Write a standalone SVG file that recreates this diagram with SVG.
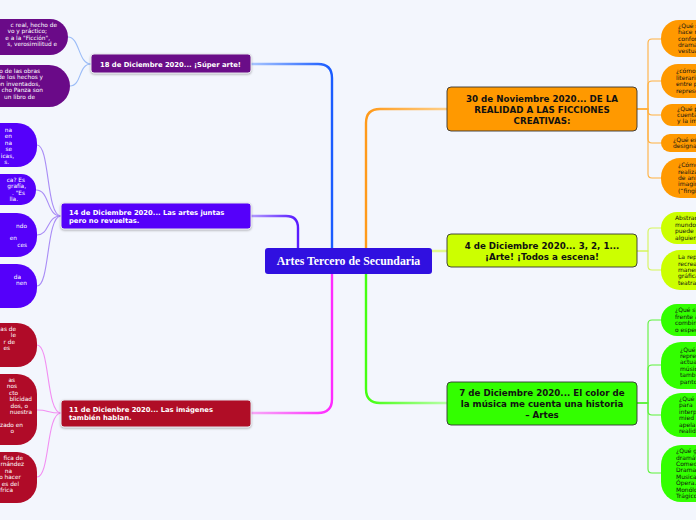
<svg xmlns="http://www.w3.org/2000/svg" width="696" height="520" viewBox="0 0 696 520">
<defs>
<filter id="sh" x="-10%" y="-20%" width="120%" height="150%"><feDropShadow dx="0" dy="1" stdDeviation="0.8" flood-color="#000" flood-opacity="0.3"/></filter>
<linearGradient id="gBlue" gradientUnits="userSpaceOnUse" x1="251" y1="0" x2="330" y2="0"><stop offset="0" stop-color="#a9c6ff"/><stop offset="1" stop-color="#1a5cff"/></linearGradient>
<linearGradient id="gViolet" gradientUnits="userSpaceOnUse" x1="251" y1="0" x2="296" y2="0"><stop offset="0" stop-color="#b49cff"/><stop offset="1" stop-color="#5a1cff"/></linearGradient>
<linearGradient id="gMag" gradientUnits="userSpaceOnUse" x1="251" y1="0" x2="330" y2="0"><stop offset="0" stop-color="#f7aaf7"/><stop offset="1" stop-color="#ff2bff"/></linearGradient>
<linearGradient id="gOrange" gradientUnits="userSpaceOnUse" x1="447" y1="0" x2="368" y2="0"><stop offset="0" stop-color="#ffd08a"/><stop offset="1" stop-color="#ff9a1a"/></linearGradient>
<linearGradient id="gGreen" gradientUnits="userSpaceOnUse" x1="447" y1="0" x2="368" y2="0"><stop offset="0" stop-color="#b8ffa8"/><stop offset="1" stop-color="#44ff11"/></linearGradient>
</defs>
<style>
.nl{font-family:"DejaVu Sans",Verdana,sans-serif;font-weight:bold;font-size:6.8px;fill:#fff}
.nr{font-family:"DejaVu Sans",Verdana,sans-serif;font-weight:bold;font-size:8.7px;fill:#111;text-anchor:middle}
.bw{font-family:"DejaVu Sans",Verdana,sans-serif;font-size:5.8px;fill:#fff;text-anchor:end}
.bk{font-family:"DejaVu Sans",Verdana,sans-serif;font-size:6px;fill:#111}
.main{fill:none;stroke-width:2.4;stroke-linecap:round}
.fan{fill:none;stroke-width:1.1}
.boxL{stroke:#e4e4ea;stroke-width:1;filter:url(#sh)}
.boxR{stroke:#333;stroke-width:0.9}
</style>
<rect width="696" height="520" fill="#f3f6fd"/>

<g id="connectors">
<path class="main" stroke="url(#gBlue)" d="M251,64 H318 Q332,64 332,78 V248"/>
<path class="main" stroke="url(#gViolet)" d="M251,216 H286 Q298,216 298,228 V248"/>
<path class="main" stroke="url(#gMag)" d="M251,413 H318 Q332,413 332,399 V274"/>
<path class="main" stroke="url(#gOrange)" d="M447,109 H380 Q366,109 366,123 V248"/>
<path class="main" stroke="url(#gGreen)" d="M447,403 H380 Q366,403 366,389 V274"/>
<path class="main" stroke="#e2f98a" stroke-width="1.6" d="M432,251 H447"/>
<g stroke="#9bbcf7" class="fan">
<path d="M91,64 C78,64 80,37 68,37"/>
<path d="M91,64 C78,64 82,86 70,86"/>
</g>
<g stroke="#a98cf6" class="fan">
<path d="M61,216 C46,216 50,145 37,145"/>
<path d="M61,216 C46,216 50,190 36,190"/>
<path d="M61,216 C46,216 50,235 37,235"/>
<path d="M61,216 C46,216 50,286 37,286"/>
</g>
<g stroke="#f28ef2" class="fan">
<path d="M61,413 C46,413 50,345 37,345"/>
<path d="M61,413 C46,413 50,410 37,410"/>
<path d="M61,413 C46,413 50,477 37,477"/>
</g>
<g stroke="#ffb040" class="fan">
<path d="M637,109 H648 V43 Q648,39 652,39 H661"/>
<path d="M637,109 H648 V85 Q648,81 652,81 H661"/>
<path d="M637,109 H648 V111 Q648,115 652,115 H661"/>
<path d="M637,109 H648 V139 Q648,143 652,143 H661"/>
<path d="M637,109 H648 V174 Q648,178 652,178 H661"/>
</g>
<g stroke="#d6f55a" class="fan">
<path d="M637,251 H648 V232 Q648,228 652,228 H661"/>
<path d="M637,251 H648 V266 Q648,270 652,270 H661"/>
</g>
<g stroke="#5cf23a" class="fan">
<path d="M637,403 H648 V324 Q648,320 652,320 H661"/>
<path d="M637,403 H648 V369 Q648,365 652,365 H661"/>
<path d="M637,403 H648 V411 Q648,415 652,415 H661"/>
<path d="M637,403 H648 V469 Q648,473 652,473 H661"/>
</g>
</g>

<g id="center">
<rect x="265" y="248" width="167" height="26" rx="3" fill="#3010e0"/>
<text x="348.5" y="265" font-family="'Liberation Serif','Times New Roman',serif" font-weight="bold" font-size="11.8" fill="#fff" text-anchor="middle">Artes Tercero de Secundaria</text>
</g>

<g id="n18dic">
<rect class="boxL" x="91" y="54" width="160" height="19" rx="3" fill="#6a0a88"/>
<text class="nl" x="100" y="66.5">18 de Diciembre 2020... ¡Súper arte!</text>
</g>
<g id="n14dic">
<rect class="boxL" x="61" y="203" width="190" height="26" rx="3" fill="#5500fa"/>
<text class="nl" x="69" y="214.5">14 de Diciembre 2020... Las artes juntas</text>
<text class="nl" x="69" y="222.8">pero no revueltas.</text>
</g>
<g id="n11dic">
<rect class="boxL" x="61" y="400" width="190" height="27" rx="3" fill="#b00b28"/>
<text class="nl" x="69" y="411.5">11 de Dicienbre 2020... Las imágenes</text>
<text class="nl" x="69" y="420">también hablan.</text>
</g>
<g id="n30nov">
<rect class="boxR" x="447" y="87" width="190" height="44" rx="4" fill="#ff9900"/>
<text class="nr" x="542" y="102">30 de Noviembre 2020... DE LA</text>
<text class="nr" x="542" y="113">REALIDAD A LAS FICCIONES</text>
<text class="nr" x="542" y="124">CREATIVAS:</text>
</g>
<g id="n4dic">
<rect class="boxR" x="447" y="234" width="190" height="33" rx="4" fill="#ccff00"/>
<text class="nr" x="542" y="249">4 de Diciembre 2020... 3, 2, 1...</text>
<text class="nr" x="542" y="260">¡Arte! ¡Todos a escena!</text>
</g>
<g id="n7dic">
<rect class="boxR" x="447" y="382" width="190" height="43" rx="4" fill="#33ff00"/>
<text class="nr" x="542" y="396">7 de Diciembre 2020... El color de</text>
<text class="nr" x="542" y="407">la música me cuenta una historia</text>
<text class="nr" x="542" y="418">– Artes</text>
</g>

<g id="b18a"><rect x="-40" y="19" width="108" height="36" rx="18" fill="#6a0a88"/>
<text class="bw"><tspan x="57" y="27">c real, hecho de</tspan><tspan x="47" y="33.4">vo y práctico;</tspan><tspan x="50" y="39.8">e a la "Ficción",</tspan><tspan x="57" y="46.2">s, verosimilitud e</tspan></text></g>
<g id="b18b"><rect x="-40" y="65" width="110" height="42" rx="21" fill="#6a0a88"/>
<text class="bw"><tspan x="40" y="73">o de las obras</tspan><tspan x="43" y="79.4">de los hechos y</tspan><tspan x="40" y="85.8">on inventados,</tspan><tspan x="43" y="92.2">cho Panza son</tspan><tspan x="35" y="98.6">un libro de</tspan></text></g>

<g id="b14a"><rect x="-60" y="123" width="97" height="44" rx="20" fill="#5500fa"/>
<text class="bw"><tspan x="12" y="132">na</tspan><tspan x="12" y="138.4">en</tspan><tspan x="12" y="144.8">na</tspan><tspan x="12" y="151.2">se</tspan><tspan x="14" y="157.6">icas,</tspan><tspan x="9" y="164">s.</tspan></text></g>
<g id="b14b"><rect x="-60" y="174" width="96" height="31" rx="15" fill="#5500fa"/>
<text class="bw"><tspan x="25" y="182">ca? Es</tspan><tspan x="26" y="188.4">grafía,</tspan><tspan x="25" y="194.8">. "Es</tspan><tspan x="18" y="201.2">lla.</tspan></text></g>
<g id="b14c"><rect x="-60" y="213" width="97" height="44" rx="20" fill="#5500fa"/>
<text class="bw"><tspan x="27" y="227.5">ndo</tspan><tspan x="17" y="240.3">en</tspan><tspan x="27" y="246.7">ces</tspan></text></g>
<g id="b14d"><rect x="-60" y="264" width="97" height="44" rx="20" fill="#5500fa"/>
<text class="bw"><tspan x="21" y="279">da</tspan><tspan x="27" y="285.4">nen</tspan></text></g>

<g id="b11a"><rect x="-60" y="323" width="97" height="44" rx="20" fill="#b00b28"/>
<text class="bw"><tspan x="16" y="331">as de</tspan><tspan x="16" y="337.4">le</tspan><tspan x="15" y="343.8">r de</tspan><tspan x="10" y="350.2">es</tspan></text></g>
<g id="b11b"><rect x="-60" y="374" width="97" height="71" rx="20" fill="#b00b28"/>
<text class="bw"><tspan x="15" y="382">as</tspan><tspan x="17" y="388.4">nos</tspan><tspan x="18" y="394.8">cto</tspan><tspan x="32" y="401.2">blicidad</tspan><tspan x="28" y="407.6">dos, o</tspan><tspan x="32" y="414">nuestra</tspan><tspan x="23" y="426.8">zado en</tspan><tspan x="14" y="433.2">o</tspan></text></g>
<g id="b11c"><rect x="-60" y="452" width="97" height="51" rx="20" fill="#b00b28"/>
<text class="bw"><tspan x="23" y="460">fica de</tspan><tspan x="24" y="466.4">rnández</tspan><tspan x="12" y="472.8">na</tspan><tspan x="21" y="479.2">o hacer</tspan><tspan x="19" y="485.6">es del</tspan><tspan x="13" y="492">frica</tspan></text></g>

<g id="o1"><rect x="661" y="20" width="100" height="37" rx="18" fill="#ff9900"/>
<text class="bk"><tspan x="678" y="27.7">¿Qué s</tspan><tspan x="678" y="34.1">hace r</tspan><tspan x="678" y="40.5">confor</tspan><tspan x="678" y="46.9">dramat</tspan><tspan x="678" y="53.3">vestua</tspan></text></g>
<g id="o2"><rect x="661" y="64" width="100" height="34" rx="17" fill="#ff9900"/>
<text class="bk"><tspan x="676" y="73.4">¿cómo s</tspan><tspan x="676" y="79.8">literario</tspan><tspan x="676" y="86.2">entre p</tspan><tspan x="676" y="92.6">represe</tspan></text></g>
<g id="o3"><rect x="661" y="104" width="100" height="22" rx="11" fill="#ff9900"/>
<text class="bk"><tspan x="677" y="110.6">¿Qué p</tspan><tspan x="677" y="117">cuenta</tspan><tspan x="677" y="123.4">y la im</tspan></text></g>
<g id="o4"><rect x="661" y="134" width="100" height="18" rx="9" fill="#ff9900"/>
<text class="bk"><tspan x="673" y="141.8">¿Qué es</tspan><tspan x="673" y="148.2">designa</tspan></text></g>
<g id="o5"><rect x="661" y="158" width="100" height="40" rx="19" fill="#ff9900"/>
<text class="bk"><tspan x="678" y="167.2">¿Cómo</tspan><tspan x="678" y="173.6">realiza</tspan><tspan x="678" y="180">de ani</tspan><tspan x="678" y="186.4">imagir</tspan><tspan x="678" y="192.8">(“fingi</tspan></text></g>

<g id="y1"><rect x="661" y="212" width="100" height="32" rx="16" fill="#ccff00"/>
<text class="bk"><tspan x="675" y="220.4">Abstrac</tspan><tspan x="675" y="226.8">mundo</tspan><tspan x="675" y="233.2">puede s</tspan><tspan x="675" y="239.6">alguien</tspan></text></g>
<g id="y2"><rect x="661" y="250" width="100" height="40" rx="19" fill="#ccff00"/>
<text class="bk"><tspan x="678" y="259.2">La rep</tspan><tspan x="678" y="265.6">recrea</tspan><tspan x="678" y="272">maner</tspan><tspan x="678" y="278.4">gráfica</tspan><tspan x="678" y="284.8">teatral</tspan></text></g>

<g id="g1"><rect x="661" y="304" width="100" height="32" rx="16" fill="#33ff00"/>
<text class="bk"><tspan x="675" y="312.4">¿Qué si</tspan><tspan x="675" y="318.8">frente a</tspan><tspan x="675" y="325.2">combin</tspan><tspan x="675" y="331.6">o espec</tspan></text></g>
<g id="g2"><rect x="661" y="342" width="100" height="47" rx="20" fill="#33ff00"/>
<text class="bk"><tspan x="680" y="351.5">¿Qué</tspan><tspan x="680" y="357.9">repres</tspan><tspan x="680" y="364.3">actua</tspan><tspan x="680" y="370.7">músic</tspan><tspan x="680" y="377.1">tamb</tspan><tspan x="680" y="383.5">panto</tspan></text></g>
<g id="g3"><rect x="661" y="393" width="100" height="44" rx="20" fill="#33ff00"/>
<text class="bk"><tspan x="679" y="401">¿Qué</tspan><tspan x="679" y="407.4">para</tspan><tspan x="679" y="413.8">interp</tspan><tspan x="679" y="420.2">mied</tspan><tspan x="679" y="426.6">apela</tspan><tspan x="679" y="433">realid</tspan></text></g>
<g id="g4"><rect x="661" y="445" width="100" height="57" rx="20" fill="#33ff00"/>
<text class="bk"><tspan x="676" y="453.1">¿Qué g</tspan><tspan x="676" y="459.5">dramát</tspan><tspan x="676" y="465.9">Comed</tspan><tspan x="676" y="472.3">Drama.</tspan><tspan x="676" y="478.7">Musical</tspan><tspan x="676" y="485.1">Ópera.</tspan><tspan x="676" y="491.5">Monólo</tspan><tspan x="676" y="497.9">Trágico</tspan></text></g>
</svg>
